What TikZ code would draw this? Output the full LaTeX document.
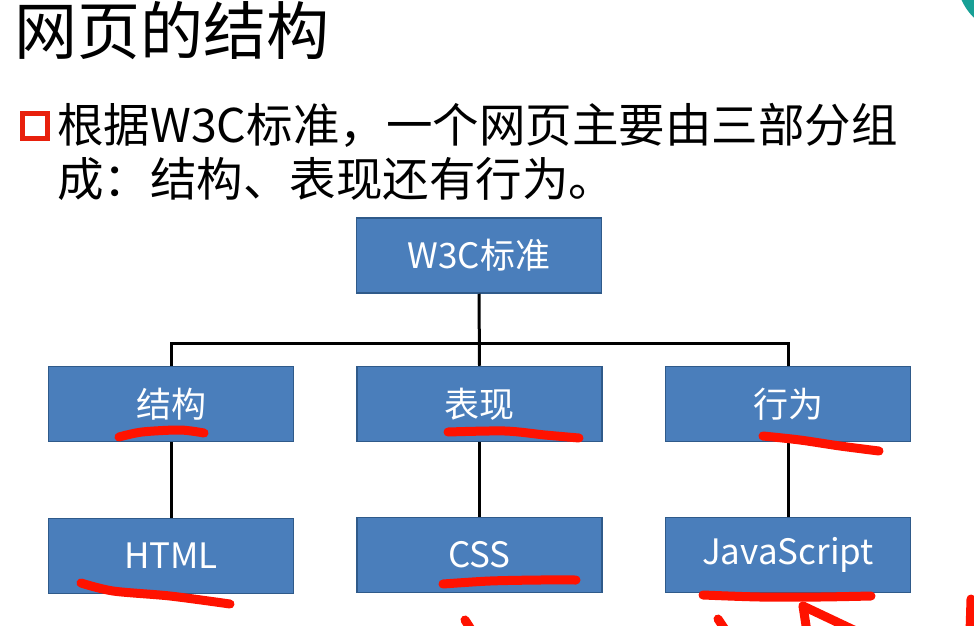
\documentclass[tikz,border=0pt]{standalone}
\usepackage{fontspec}
\setmainfont{Noto Sans CJK SC}
\definecolor{boxfill}{HTML}{4A7EBB}
\definecolor{boxborder}{HTML}{2F5A8A}
\definecolor{inkred}{HTML}{FF1200}
\definecolor{tealc}{HTML}{17A096}
\definecolor{bulletred}{HTML}{E8200C}
\tikzset{
  box/.style={draw=boxborder, line width=1.5pt, fill=boxfill, minimum width=245pt, minimum height=75pt,
    text=white, font=\fontsize{35}{40}\selectfont, inner sep=0pt},
  link/.style={line width=3pt, draw=black},
  ink/.style={draw=inkred, line width=9pt, line cap=round, line join=round},
  txt/.style={inner sep=0pt, anchor=base west, text=black}
}
\begin{document}
\begin{tikzpicture}[x=1pt,y=-1pt]
\useasboundingbox (0,0) rectangle (974,626);
\clip (0,0) rectangle (974,626);
\fill[white] (0,0) rectangle (974,626);
\fill[tealc] (1012,-22) circle (55);

% title and bullet text
\node[txt, font=\fontsize{63}{66}\selectfont] (title) at (14,55) {网页的结构};
\node[draw=bulletred, line width=5.5pt, fill=white, minimum size=25pt, inner sep=0pt] (bul) at (35,126) {};
\node[txt, font=\fontsize{46.5}{50}\selectfont] (l1) at (57,142) {根据W3C标准，一个网页主要由三部分组};
\node[txt, font=\fontsize{46.5}{50}\selectfont] (l2) at (57,196) {成：结构、表现还有行为。};

% boxes
\node[box] (w3c) at (479,255.5) {W3C标准};
\node[box] (jg) at (171,404) {结构};
\node[box] (bx) at (479.5,404) {表现};
\node[box] (xw) at (788,404) {行为};
\node[box] (html) at (171,556) {HTML};
\node[box] (css) at (479.5,555) {CSS};
\node[box] (js) at (788,555) {JavaScript};

% connectors
\coordinate (bus) at (479,343);
\draw[link] (w3c.south) -- (bx.north);
\draw[link] (jg.north) -- (jg.north |- bus) -- (xw.north |- bus) -- (xw.north);
\draw[link] (jg.south) -- (html.north);
\draw[link] (bx.south) -- (css.north);
\draw[link] (xw.south) -- (js.north);

% red hand-drawn marks
\draw[ink] plot[smooth] coordinates {(119,437) (142,432) (180,430) (204,433)};
\draw[ink] plot[smooth] coordinates {(448,432) (505,431) (545,435) (579,438)};
\draw[ink] plot[smooth] coordinates {(763,436) (800,440) (840,446) (879,451)};
\draw[ink] plot[smooth] coordinates {(81,583) (113,591) (170,596) (230,604)};
\draw[ink] plot[smooth] coordinates {(443,584) (490,581) (540,580) (576,580)};
\draw[ink] plot[smooth] coordinates {(703,595) (760,597) (820,597) (871,596)};
\draw[ink] (465,620) -- (474,634);
\draw[ink] (718,619) -- (728,634);
\draw[ink] (803,606) -- (858,632);
\draw[ink] (803,606) -- (807,632);
\draw[ink] (971,599) -- (970,632);
\end{tikzpicture}
\end{document}
